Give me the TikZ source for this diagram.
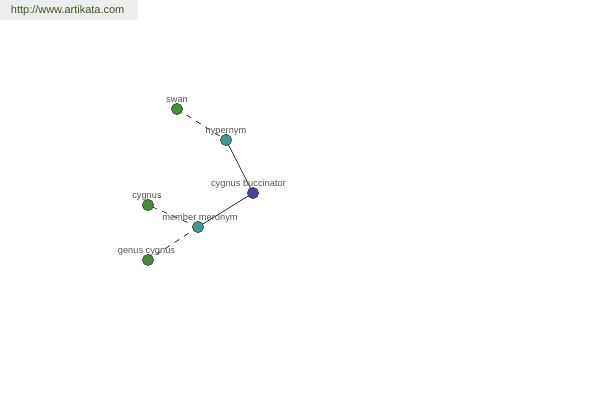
\documentclass[tikz,border=0pt]{standalone}
\usepackage{fontspec}
\setmainfont{Liberation Sans}
\definecolor{leafgreen}{HTML}{4C8A3E}
\definecolor{relteal}{HTML}{3F9A93}
\definecolor{rootblue}{HTML}{45459A}
\definecolor{labelgray}{HTML}{555555}
\definecolor{urlgreen}{HTML}{3E5A1E}
\begin{document}
\begin{tikzpicture}[x=0.025cm,y=-0.025cm,font=\fontsize{6.6}{7}\selectfont,
		word/.style={circle,draw=black!80,line width=0.4pt,minimum size=8pt,inner sep=0pt},
		lbl/.style={text=labelgray,inner sep=0pt,anchor=base}]
				\useasboundingbox (0,0) rectangle (600,400);
				\fill[black!7] (0,0) rectangle (138,20);
				\node[text=urlgreen,font=\fontsize{7.8}{9}\selectfont,anchor=west] (url) at (6,11) {http://www.artikata.com};
				% edges first, nodes on top
				\coordinate (pswan) at (177,109);
				\coordinate (phyp) at (226,140);
				\coordinate (proot) at (253,193);
				\coordinate (pcyg) at (148,205);
				\coordinate (pmer) at (198,227);
				\coordinate (pgen) at (148,260);
				\draw[dash pattern=on 4pt off 4pt,line width=0.4pt] (pswan)--(phyp);
				\draw[line width=0.4pt] (phyp)--(proot);
				\draw[line width=0.4pt] (proot)--(pmer);
				\draw[dash pattern=on 4pt off 4pt,line width=0.4pt] (pmer)--(pcyg);
				\draw[dash pattern=on 4pt off 4pt,line width=0.4pt] (pmer)--(pgen);
				\node[word,fill=leafgreen] (swan) at (pswan) {};
				\node[word,fill=relteal] (hyp) at (phyp) {};
				\node[word,fill=rootblue] (root) at (proot) {};
				\node[word,fill=leafgreen] (cyg) at (pcyg) {};
				\node[word,fill=relteal] (mer) at (pmer) {};
				\node[word,fill=leafgreen] (gen) at (pgen) {};
				\node[lbl] (lswan) at (177,102.5) {swan};
				\node[lbl] (lhyp) at (226,133.5) {hypernym};
				\node[lbl] (lroot) at (248.5,186.5) {cygnus buccinator};
				\node[lbl] (lcyg) at (147,198.5) {cygnus};
				\node[lbl] (lmer) at (200,220.5) {member meronym};
				\node[lbl] (lgen) at (146.5,253.5) {genus cygnus};
			\end{tikzpicture}
\end{document}
